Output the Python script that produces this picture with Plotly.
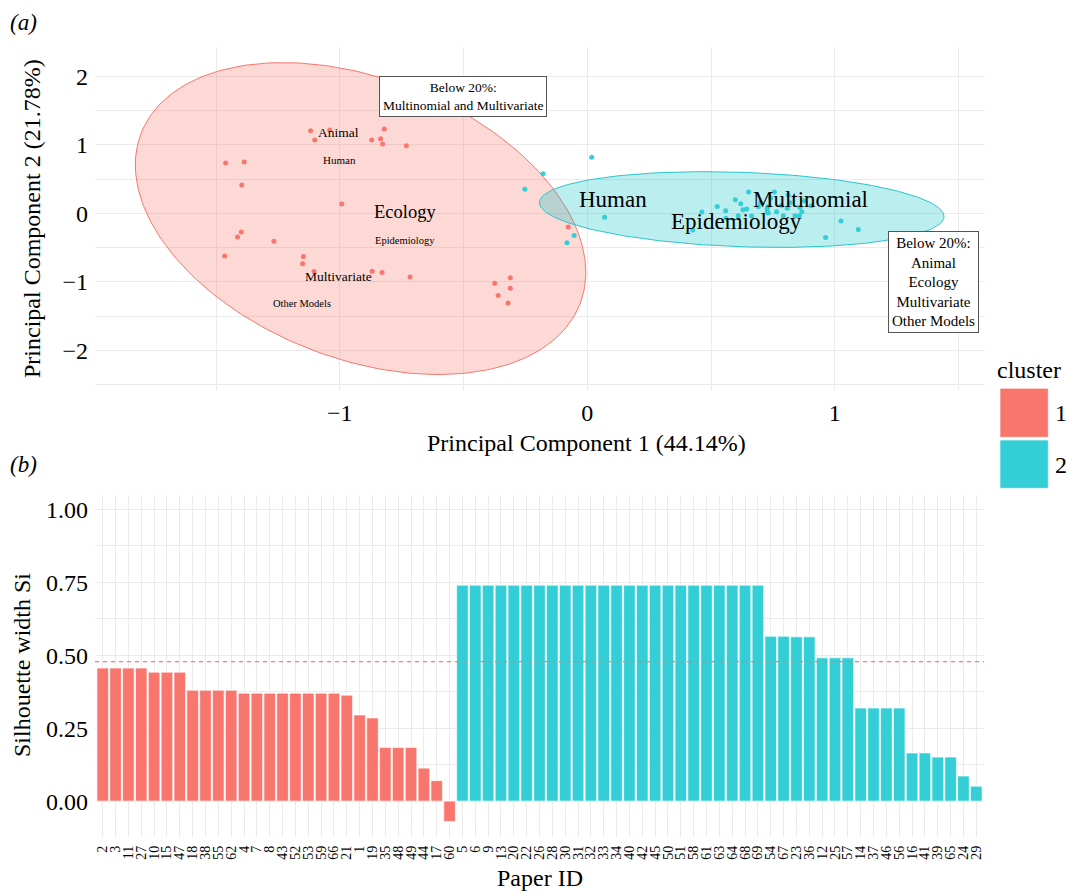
import numpy as np
import plotly.graph_objects as go

FONT = "Liberation Serif"
RED = "#F8766D"
CYAN = "#33CED6"
GRID = "#EBEBEB"

# ---------------- (a) PCA scores ----------------
c1_pc1 = [-1.118, -1.101, -1.041, -0.820, -0.871, -0.835, -0.827, -0.731, -1.461, -1.386,
          -1.396, -0.992, -1.398, -1.413, -1.266, -1.465, -1.147, -1.150, -1.104, -0.869,
          -0.829, -0.716, -0.374, -0.311, -0.311, -0.360, -0.320, -0.077]
c1_pc2 = [1.208, 1.072, 1.218, 1.232, 1.072, 1.091, 1.013, 0.988, 0.735, 0.750,
          0.414, 0.136, -0.273, -0.346, -0.409, -0.624, -0.629, -0.737, -0.848, -0.844,
          -0.863, -0.931, -1.019, -0.942, -1.092, -1.199, -1.311, -0.200]
c2_pc1 = [0.018, -0.179, -0.252, 0.070, -0.053, -0.082, 0.426, 0.463, 0.525, 0.559,
          0.598, 0.629, 0.644, 0.610, 0.652, 0.664, 0.691, 0.727, 0.727, 0.756,
          0.765, 0.792, 0.812, 0.819, 0.808, 0.839, 0.857, 0.867, 0.859, 0.877,
          0.741, 1.025, 1.095, 0.963, 0.729, 0.731, 0.700, 0.785, 0.620, 0.560, 0.905]
c2_pc2 = [0.819, 0.579, 0.351, -0.058, -0.322, -0.430, -0.244, 0.019, 0.102, 0.038,
          0.199, 0.053, 0.063, -0.035, 0.311, -0.039, 0.096, 0.063, 0.023, 0.311,
          0.023, -0.035, 0.268, 0.155, 0.073, -0.035, -0.035, 0.023, 0.088, 0.184,
          0.219, -0.113, -0.234, -0.351, 0.097, 0.004, 0.160, 0.120, 0.140, -0.070, 0.110]

# concentration ellipses (centre and covariance, PC units)
ell_cx = [-0.916, 0.624]
ell_cy = [-0.076, 0.056]
ell_var_x = [0.828, 0.668]
ell_var_y = [5.189, 0.306]
ell_cov = [-0.715, -0.0827]

# term labels per cluster
c1_terms = ["Animal", "Human", "Ecology", "Epidemiology", "Multivariate", "Other Models"]
c1_term_x = [-1.007, -1.002, -0.738, -0.737, -1.006, -1.151]
c1_term_y = [1.178, 0.775, 0.015, -0.401, -0.927, -1.316]
c1_term_size = [13.5, 11, 18.5, 10.5, 13.5, 10.5]
c2_terms = ["Human", "Multinomial", "Epidemiology"]
c2_term_x = [0.103, 0.902, 0.602]
c2_term_y = [0.209, 0.200, -0.122]
c2_term_size = [23, 23, 23]

note_text = ["Below 20%:<br>Multinomial and Multivariate",
             "Below 20%:<br>Animal<br>Ecology<br>Multivariate<br>Other Models"]
note_x = [-0.501, 1.398]
note_y = [1.700, -1.000]
note_size = [13.5, 15]

# ---------------- (b) silhouette widths ----------------
c1_ids = ["2", "3", "11", "27", "10", "15", "47", "18", "38", "55", "62", "4", "7", "8",
          "43", "52", "53", "59", "66", "21", "1", "19", "35", "48", "49", "44", "17", "60"]
c1_sil = [0.456, 0.456, 0.456, 0.456, 0.442, 0.442, 0.442, 0.380, 0.380, 0.380, 0.380,
          0.370, 0.370, 0.370, 0.370, 0.370, 0.370, 0.370, 0.370, 0.363, 0.295, 0.285,
          0.184, 0.184, 0.184, 0.113, 0.070, -0.070]
c2_ids = ["5", "6", "9", "13", "20", "22", "26", "28", "30", "31", "32", "33", "34", "40",
          "42", "45", "50", "51", "58", "61", "63", "64", "68", "69", "54", "67", "23", "36",
          "12", "25", "57", "14", "37", "46", "56", "16", "41", "39", "65", "24", "29"]
c2_sil = [0.740, 0.740, 0.740, 0.740, 0.740, 0.740, 0.740, 0.740, 0.740, 0.740, 0.740,
          0.740, 0.740, 0.740, 0.740, 0.740, 0.740, 0.740, 0.740, 0.740, 0.740, 0.740,
          0.740, 0.740, 0.565, 0.565, 0.563, 0.563, 0.491, 0.491, 0.491, 0.319, 0.319,
          0.319, 0.319, 0.165, 0.165, 0.151, 0.151, 0.086, 0.051]
avg_sil = 0.478

# ---------------- layout geometry helpers ----------------
W, H = 1067, 893
ML, MR, MT, MB = 95, 82, 47, 56
PW, PH = W - ML - MR, H - MT - MB


def px(x):
    return (x - ML) / PW


def py(y):
    return (H - MB - y) / PH


fig = go.Figure()

# ellipses
t = np.linspace(0, 2 * np.pi, 240)
ell_fill = ["rgba(248,118,109,0.28)", "rgba(0,191,196,0.27)"]
ell_line = [RED, "#2CC5CC"]
for i in range(2):
    M = np.array([[ell_var_x[i], ell_cov[i]], [ell_cov[i], ell_var_y[i]]])
    L = np.linalg.cholesky(M)
    pts = L @ np.vstack([np.cos(t), np.sin(t)])
    fig.add_trace(go.Scatter(x=ell_cx[i] + pts[0], y=ell_cy[i] + pts[1], mode="lines",
                             fill="toself", fillcolor=ell_fill[i],
                             line=dict(color=ell_line[i], width=1),
                             xaxis="x", yaxis="y", showlegend=False, hoverinfo="skip"))

fig.add_trace(go.Scatter(x=c1_pc1, y=c1_pc2, mode="markers", marker=dict(color=RED, size=5),
                         xaxis="x", yaxis="y", showlegend=False, name="1"))
fig.add_trace(go.Scatter(x=c2_pc1, y=c2_pc2, mode="markers", marker=dict(color=CYAN, size=5),
                         xaxis="x", yaxis="y", showlegend=False, name="2"))

# bars
bar_line = dict(color="rgba(255,255,255,0.65)", width=1)
fig.add_trace(go.Bar(x=c1_ids, y=c1_sil, marker=dict(color=RED, line=bar_line), width=0.9,
                     xaxis="x2", yaxis="y2", showlegend=False, name="1"))
fig.add_trace(go.Bar(x=c2_ids, y=c2_sil, marker=dict(color=CYAN, line=bar_line), width=0.9,
                     xaxis="x2", yaxis="y2", showlegend=False, name="2"))

C = dict(xanchor="center", yanchor="middle", showarrow=False)
annotations = []
for txt, x, y, s in zip(c1_terms, c1_term_x, c1_term_y, c1_term_size):
    annotations.append(dict(text=txt, x=x, y=y, xref="x", yref="y",
                            font=dict(family=FONT, size=s, color="black"), **C))
for txt, x, y, s in zip(c2_terms, c2_term_x, c2_term_y, c2_term_size):
    annotations.append(dict(text=txt, x=x, y=y, xref="x", yref="y",
                            font=dict(family=FONT, size=s, color="black"), **C))
for txt, x, y, s in zip(note_text, note_x, note_y, note_size):
    annotations.append(dict(text=txt, x=x, y=y, xref="x", yref="y",
                            font=dict(family=FONT, size=s, color="black"),
                            bgcolor="white", bordercolor="#555555", borderwidth=1, borderpad=3, **C))

# axis titles and panel tags
tf = dict(family=FONT, size=24, color="black")
annotations += [
    dict(text="Principal Component 1 (44.14%)", x=px(586), y=py(443), xref="paper", yref="paper",
         font=tf, **C),
    dict(text="Principal Component 2 (21.78%)", x=px(32), y=py(219), xref="paper", yref="paper",
         font=tf, textangle=-90, **C),
    dict(text="Silhouette width Si", x=px(22), y=py(665), xref="paper", yref="paper",
         font=tf, textangle=-90, **C),
    dict(text="Paper ID", x=px(540), y=py(878), xref="paper", yref="paper",
         font=tf, **C),
    dict(text="<i>(a)</i>", x=px(23.5), y=py(22), xref="paper", yref="paper",
         font=dict(family=FONT, size=23, color="black"), **C),
    dict(text="<i>(b)</i>", x=px(23.5), y=py(465), xref="paper", yref="paper",
         font=dict(family=FONT, size=23, color="black"), **C),
    dict(text="cluster", x=px(1029), y=py(370), xref="paper", yref="paper",
         font=tf, **C),
    dict(text="1", x=px(1061), y=py(413), xref="paper", yref="paper",
         font=tf, **C),
    dict(text="2", x=px(1061), y=py(465), xref="paper", yref="paper",
         font=tf, **C),
]

shapes = [
    dict(type="line", xref="x2 domain", yref="y2", x0=0, x1=1, y0=avg_sil, y1=avg_sil,
         line=dict(color=RED, width=1.3, dash="4px,4px")),
    dict(type="rect", xref="paper", yref="paper", x0=px(1000), x1=px(1048.3),
         y0=py(437.3), y1=py(388.3), fillcolor=RED, line=dict(color="rgba(255,255,255,0.65)", width=1)),
    dict(type="rect", xref="paper", yref="paper", x0=px(1000), x1=px(1048.3),
         y0=py(488.3), y1=py(440), fillcolor=CYAN, line=dict(color="rgba(255,255,255,0.65)", width=1)),
]

tick24 = dict(family=FONT, size=24, color="black")
fig.update_layout(
    width=W, height=H,
    margin=dict(l=ML, r=MR, t=MT, b=MB),
    paper_bgcolor="white", plot_bgcolor="white",
    barmode="overlay",
    showlegend=False,
    font=dict(family=FONT, color="black"),
    xaxis=dict(domain=[0, 1], anchor="y", range=[-1.989, 1.607], tickvals=[-1, 0, 1],
               showgrid=True, gridcolor=GRID, gridwidth=1, zeroline=False, showline=False,
               ticks="", tickfont=tick24, ticklabelstandoff=6, automargin=False,
               minor=dict(dtick=0.5, tick0=0, showgrid=True, gridcolor=GRID, gridwidth=1)),
    yaxis=dict(domain=[py(390), 1], anchor="x", range=[-2.58, 2.43], tickvals=[-2, -1, 0, 1, 2],
               showgrid=True, gridcolor=GRID, gridwidth=1, zeroline=False, showline=False,
               ticks="", tickfont=tick24, ticklabelstandoff=6, automargin=False,
               minor=dict(dtick=0.5, tick0=0, showgrid=True, gridcolor=GRID, gridwidth=1)),
    xaxis2=dict(domain=[0, px(984)], anchor="y2", type="category",
                categoryorder="array", categoryarray=c1_ids + c2_ids, range=[-0.6, 68.6],
                tickmode="array", tickvals=c1_ids + c2_ids, ticktext=c1_ids + c2_ids,
                tickangle=-90, tickfont=dict(family=FONT, size=14, color="black"),
                showgrid=True, gridcolor=GRID, gridwidth=1, zeroline=False, showline=False,
                ticks="", ticklabelstandoff=5, automargin=False),
    yaxis2=dict(domain=[0, py(495)], anchor="x2", range=[-0.123, 1.049],
                tickvals=[0, 0.25, 0.5, 0.75, 1.0], tickformat=".2f",
                showgrid=True, gridcolor=GRID, gridwidth=1, zeroline=False, showline=False,
                ticks="", tickfont=tick24, ticklabelstandoff=6, automargin=False,
                minor=dict(dtick=0.125, tick0=0, showgrid=True, gridcolor=GRID, gridwidth=1)),
    annotations=annotations,
    shapes=shapes,
)

fig.write_html("out.html", config={"displayModeBar": False},
               post_script="document.body.style.margin='0';document.body.style.overflow='hidden';")
